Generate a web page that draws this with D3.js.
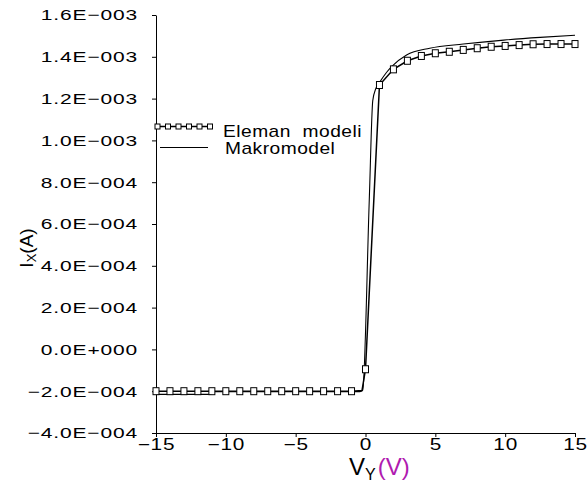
<!DOCTYPE html>
<html><head><meta charset="utf-8">
<script src="https://cdn.jsdelivr.net/npm/d3@7"></script>
<style>body{margin:0;background:#fff} svg{display:block}</style>
</head><body><svg id="c" width="587" height="489"></svg>
<script>
const xTickValues = [-15, -10, -5, 0, 5, 10, 15];
const xTickLabels = ["−15", "−10", "−5", "0", "5", "10", "15"];
const yTickValues = [-4e-4, -2e-4, 0, 2e-4, 4e-4, 6e-4, 8e-4, 1e-3, 1.2e-3, 1.4e-3, 1.6e-3];
const yTickLabels = ["−4.0E−004", "−2.0E−004", "0.0E+000", "2.0E−004", "4.0E−004", "6.0E−004",
                     "8.0E−004", "1.0E−003", "1.2E−003", "1.4E−003", "1.6E−003"];

// Eleman modeli (marker points every 1 V)
const elemanV = [-15, -14, -13, -12, -11, -10, -9, -8, -7, -6, -5, -4, -3, -2, -1,
                 0, 1, 2, 3, 4, 5, 6, 7, 8, 9, 10, 11, 12, 13, 14, 15];
const elemanI = [-2.0e-4, -2.0e-4, -2.0e-4, -2.0e-4, -2.0e-4, -2.0e-4, -2.0e-4, -2.0e-4,
                 -2.0e-4, -2.0e-4, -2.0e-4, -2.0e-4, -2.0e-4, -2.0e-4, -2.0e-4,
                 -0.95e-4, 1.265e-3, 1.340e-3, 1.381e-3, 1.404e-3, 1.417e-3, 1.424e-3,
                 1.433e-3, 1.441e-3, 1.448e-3, 1.452e-3, 1.456e-3, 1.460e-3, 1.461e-3,
                 1.461e-3, 1.461e-3];
// extra (unmarked) simulation point of the Eleman curve at the knee
const elemanKneeV = [-0.25];
const elemanKneeI = [-1.97e-4];

// Makromodel
const makroV = [-15, -11.1, -10.8, -0.4, -0.2, 0.27, 0.52, 0.75, 1.04, 1.5, 1.87, 2.94, 4.6, 7, 9.9, 12.5, 15];
const makroI = [-2.15e-4, -2.15e-4, -2.02e-4, -2.02e-4, -1.95e-4, 0.715e-3, 1.19e-3, 1.25e-3,
                1.281e-3, 1.325e-3, 1.353e-3, 1.409e-3, 1.441e-3, 1.461e-3, 1.480e-3, 1.493e-3, 1.503e-3];

const seriesNames = ["Eleman  modeli", "Makromodel"];

const FONT = "'Liberation Sans', Arial, sans-serif";
const svg = d3.select("#c");
const x = d3.scaleLinear().domain([-15, 15]).range([156, 575]);
const y = d3.scaleLinear().domain([-4e-4, 1.6e-3]).range([433, 15]);

// Y axis
const SX = 1.4;
const gy = svg.append("g").attr("transform", "translate(156,0)")
  .call(d3.axisLeft(y).tickValues(yTickValues).tickFormat((d, i) => yTickLabels[i])
        .tickSize(4).tickSizeOuter(0).tickPadding(14));
gy.selectAll("path.domain,line").attr("stroke", "#000").attr("stroke-width", 1);
gy.selectAll("text").attr("font-family", FONT).attr("font-size", 15).attr("fill", "#000")
  .attr("letter-spacing", 0.6)
  .attr("x", -18 / SX).attr("transform", `scale(${SX},1)`);

// X axis
const SXX = 1.3;
const gx = svg.append("g").attr("transform", "translate(0,433)")
  .call(d3.axisBottom(x).tickValues(xTickValues).tickFormat((d, i) => xTickLabels[i])
        .tickSize(4).tickSizeOuter(0).tickPadding(2));
gx.selectAll("path.domain,line").attr("stroke", "#000").attr("stroke-width", 1);
gx.selectAll("text").attr("font-family", FONT).attr("font-size", 16).attr("fill", "#000")
  .attr("letter-spacing", 0.6).attr("transform", `scale(${SXX},1)`);

// Series
const elemanLine = elemanV.map((v, i) => [v, elemanI[i]])
  .concat(elemanKneeV.map((v, i) => [v, elemanKneeI[i]]))
  .sort((a, b) => a[0] - b[0]);
const makroLine = makroV.map((v, i) => [v, makroI[i]]);

svg.append("path").datum(makroLine)
  .attr("d", d3.line().x(d => x(d[0])).y(d => y(d[1])).curve(d3.curveMonotoneX))
  .attr("fill", "none").attr("stroke", "#000").attr("stroke-width", 1.1);
svg.append("path").datum(elemanLine)
  .attr("d", d3.line().x(d => x(d[0])).y(d => y(d[1])))
  .attr("fill", "none").attr("stroke", "#000").attr("stroke-width", 1.5);
svg.append("g").selectAll("rect").data(elemanV.map((v, i) => [v, elemanI[i]])).join("rect")
  .attr("x", d => x(d[0]) - 3).attr("y", d => y(d[1]) - 3.5)
  .attr("width", 6).attr("height", 7)
  .attr("fill", "#fff").attr("stroke", "#000").attr("stroke-width", 1);

// Legend
const lg = svg.append("g");
lg.append("line").attr("x1", 155).attr("x2", 212).attr("y1", 126.5).attr("y2", 126.5)
  .attr("stroke", "#000").attr("stroke-width", 1.5);
lg.selectAll("rect").data([157.5, 168, 178.5, 189, 199.5, 210]).join("rect")
  .attr("x", d => d - 2.5).attr("y", 124).attr("width", 5).attr("height", 5)
  .attr("fill", "#fff").attr("stroke", "#000").attr("stroke-width", 1);
lg.append("line").attr("x1", 160).attr("x2", 208).attr("y1", 147.5).attr("y2", 147.5)
  .attr("stroke", "#000").attr("stroke-width", 1.1);
const LS = 1.2;
lg.append("text").attr("transform", `translate(223,137) scale(${LS},1)`)
  .attr("font-family", FONT).attr("font-size", 16).attr("letter-spacing", 0.4)
  .style("white-space", "pre").text(seriesNames[0]);
lg.append("text").attr("transform", `translate(225,154) scale(${LS},1)`)
  .attr("font-family", FONT).attr("font-size", 16).attr("letter-spacing", 0.4)
  .text(seriesNames[1]);

// X title
const xt = svg.append("text").attr("x", 349).attr("y", 475)
  .attr("font-family", FONT).attr("font-size", 24).attr("fill", "#000");
xt.append("tspan").text("V");
xt.append("tspan").attr("font-size", 16).attr("dy", 5).text("Y");
xt.append("tspan").attr("dy", -5).attr("dx", 2).attr("fill", "#b01ab0").text("(V)");

// Y title
const yt = svg.append("text").attr("transform", "translate(33,248) rotate(-90)")
  .attr("text-anchor", "middle")
  .attr("font-family", FONT).attr("font-size", 19).attr("fill", "#000");
yt.append("tspan").text("I");
yt.append("tspan").attr("font-size", 13).attr("dy", 3).text("X");
yt.append("tspan").attr("dy", -3).text("(A)");
</script>
</body></html>
